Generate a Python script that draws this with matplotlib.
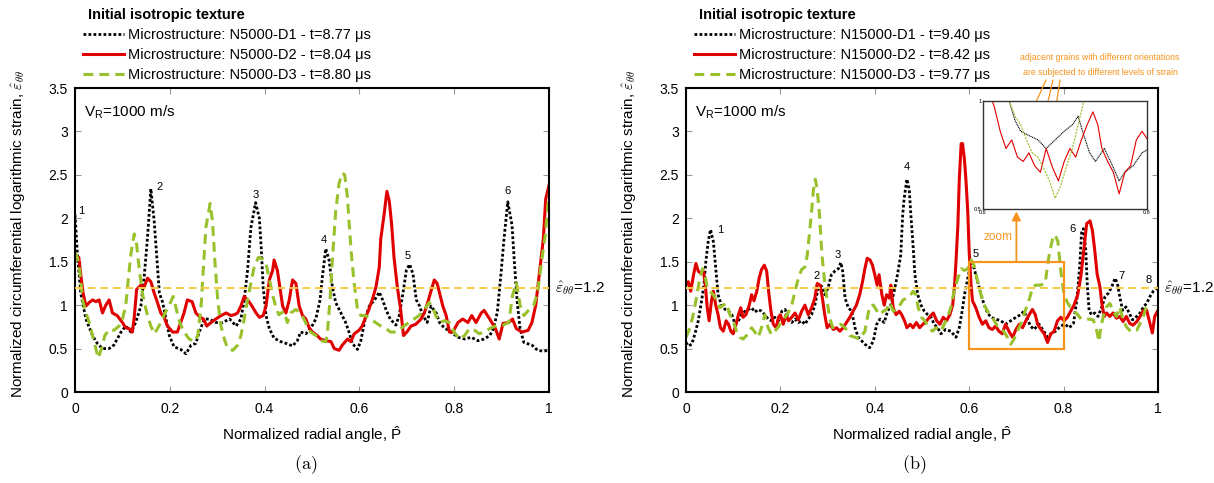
import numpy as np
import matplotlib
matplotlib.use('Agg')
import matplotlib.pyplot as plt
from matplotlib.patches import Rectangle
import matplotlib.transforms as mtransforms

plt.rcParams['font.family'] = ['Liberation Sans', 'DejaVu Sans']
plt.rcParams['mathtext.fontset'] = 'custom'
plt.rcParams['mathtext.rm'] = 'Liberation Sans'
plt.rcParams['mathtext.it'] = 'Liberation Sans:italic'
plt.rcParams['mathtext.bf'] = 'Liberation Sans:bold'

# ---------------- data (x = normalized radial angle, y = normalized strain) ----------------
left_d1 = [(0.000,2.04),(0.005,1.60),(0.012,1.14),(0.023,0.84),(0.037,0.65),(0.047,0.56),(0.058,0.50),(0.072,0.50),(0.082,0.54),(0.097,0.69),(0.107,0.76),(0.118,0.69),(0.128,0.80),(0.139,0.99),(0.146,1.33),(0.153,1.78),(0.160,2.34),(0.167,1.97),(0.173,1.52),(0.178,1.14),(0.185,1.03),(0.192,0.84),(0.199,0.65),(0.209,0.52),(0.223,0.49),(0.234,0.44),(0.245,0.54),(0.255,0.56),(0.262,0.69),(0.273,0.84),(0.283,0.84),(0.297,0.80),(0.311,0.80),(0.326,0.84),(0.340,0.76),(0.350,0.84),(0.357,1.06),(0.364,1.40),(0.371,1.89),(0.381,2.18),(0.389,2.00),(0.393,1.65),(0.397,1.21),(0.403,0.88),(0.410,0.73),(0.420,0.62),(0.434,0.58),(0.445,0.56),(0.459,0.53),(0.469,0.59),(0.476,0.69),(0.487,0.67),(0.497,0.73),(0.508,0.84),(0.517,1.06),(0.522,1.33),(0.529,1.65),(0.536,1.52),(0.543,1.21),(0.550,1.03),(0.561,0.91),(0.571,0.80),(0.578,0.69),(0.585,0.56),(0.596,0.49),(0.603,0.59),(0.612,0.84),(0.621,0.99),(0.632,1.06),(0.642,1.15),(0.649,1.06),(0.656,0.95),(0.665,0.84),(0.677,0.77),(0.684,0.88),(0.692,1.14),(0.699,1.40),(0.706,1.47),(0.713,1.36),(0.720,1.06),(0.727,0.99),(0.734,0.88),(0.743,0.80),(0.751,0.99),(0.762,0.91),(0.769,0.80),(0.779,0.74),(0.793,0.69),(0.808,0.63),(0.822,0.61),(0.836,0.63),(0.850,0.59),(0.863,0.61),(0.875,0.65),(0.883,0.73),(0.891,0.92),(0.899,1.38),(0.905,1.76),(0.913,2.19),(0.922,1.92),(0.927,1.49),(0.933,1.03),(0.939,0.73),(0.947,0.57),(0.964,0.54),(0.976,0.48),(0.988,0.47),(1.000,0.48)]

left_d2 = [(0.000,1.53),(0.008,1.55),(0.012,1.36),(0.017,1.14),(0.023,0.99),(0.030,1.03),(0.037,1.06),(0.044,1.04),(0.051,1.06),(0.058,0.91),(0.065,1.00),(0.072,1.06),(0.079,0.91),(0.089,0.88),(0.100,0.80),(0.107,0.74),(0.114,0.73),(0.121,0.69),(0.125,0.86),(0.130,1.18),(0.139,1.23),(0.146,1.21),(0.153,1.31),(0.160,1.27),(0.167,1.14),(0.174,1.03),(0.181,0.91),(0.188,0.86),(0.195,0.76),(0.206,0.69),(0.216,0.69),(0.223,0.80),(0.230,0.91),(0.237,1.06),(0.247,1.04),(0.255,0.91),(0.264,0.86),(0.271,0.84),(0.278,0.76),(0.287,0.80),(0.297,0.84),(0.308,0.88),(0.319,0.91),(0.329,0.88),(0.336,0.89),(0.343,0.91),(0.350,0.99),(0.357,1.10),(0.364,1.06),(0.371,1.01),(0.382,0.91),(0.389,0.86),(0.397,0.88),(0.403,0.99),(0.410,1.29),(0.417,1.40),(0.420,1.52),(0.427,1.40),(0.433,1.18),(0.438,0.99),(0.445,0.91),(0.452,1.06),(0.459,1.29),(0.466,1.25),(0.473,0.99),(0.480,0.88),(0.487,0.84),(0.494,0.74),(0.501,0.69),(0.511,0.65),(0.518,0.61),(0.529,0.59),(0.540,0.58),(0.547,0.50),(0.557,0.48),(0.564,0.54),(0.575,0.61),(0.582,0.58),(0.589,0.67),(0.599,0.71),(0.606,0.76),(0.613,0.86),(0.620,0.95),(0.627,1.06),(0.635,1.21),(0.642,1.44),(0.645,1.76),(0.652,2.04),(0.658,2.31),(0.663,2.20),(0.668,1.93),(0.673,1.55),(0.680,1.21),(0.687,0.95),(0.693,0.65),(0.700,0.69),(0.709,0.76),(0.719,0.78),(0.730,0.84),(0.737,0.91),(0.744,1.03),(0.751,1.16),(0.758,1.29),(0.764,1.25),(0.769,1.14),(0.776,0.99),(0.783,0.88),(0.790,0.69),(0.797,0.69),(0.808,0.80),(0.818,0.84),(0.829,0.80),(0.837,0.88),(0.846,0.80),(0.857,0.91),(0.863,0.94),(0.875,0.84),(0.887,0.73),(0.895,0.61),(0.903,0.79),(0.915,0.80),(0.923,0.84),(0.931,0.73),(0.943,0.69),(0.956,0.71),(0.964,0.80),(0.972,1.00),(0.980,1.38),(0.988,1.76),(0.993,2.22),(1.000,2.38)]

left_d3 = [(0.000,1.61),(0.005,1.55),(0.010,1.40),(0.016,1.06),(0.023,0.91),(0.030,0.80),(0.037,0.65),(0.044,0.50),(0.049,0.39),(0.056,0.50),(0.063,0.65),(0.072,0.72),(0.082,0.71),(0.093,0.76),(0.100,0.84),(0.107,0.99),(0.113,1.33),(0.118,1.59),(0.125,1.82),(0.130,1.70),(0.135,1.44),(0.142,1.14),(0.148,0.99),(0.153,0.88),(0.160,0.76),(0.167,0.67),(0.174,0.73),(0.181,0.80),(0.190,0.91),(0.199,1.00),(0.207,1.10),(0.214,0.95),(0.221,0.80),(0.230,0.69),(0.241,0.61),(0.252,0.58),(0.259,0.65),(0.266,0.99),(0.271,1.44),(0.276,1.89),(0.285,2.17),(0.290,1.97),(0.295,1.52),(0.301,1.06),(0.308,0.76),(0.315,0.61),(0.322,0.50),(0.333,0.48),(0.343,0.54),(0.350,0.65),(0.357,0.84),(0.364,1.06),(0.371,1.25),(0.378,1.44),(0.387,1.55),(0.396,1.53),(0.403,1.48),(0.410,1.30),(0.416,1.14),(0.423,0.99),(0.430,0.89),(0.441,0.93),(0.448,0.80),(0.455,0.91),(0.466,0.95),(0.476,0.91),(0.483,0.84),(0.490,0.76),(0.497,0.69),(0.508,0.65),(0.518,0.59),(0.529,0.58),(0.532,0.65),(0.538,1.06),(0.543,1.52),(0.550,2.08),(0.557,2.40),(0.564,2.52),(0.569,2.50),(0.575,2.23),(0.578,1.97),(0.583,1.59),(0.589,1.25),(0.596,0.95),(0.603,0.88),(0.613,0.88),(0.624,0.84),(0.634,0.80),(0.645,0.76),(0.656,0.73),(0.666,0.69),(0.677,0.69),(0.687,0.73),(0.694,0.76),(0.705,0.80),(0.715,0.84),(0.726,0.88),(0.736,0.94),(0.747,1.03),(0.754,0.99),(0.761,0.88),(0.769,0.80),(0.779,0.82),(0.790,0.80),(0.800,0.69),(0.811,0.61),(0.822,0.65),(0.832,0.73),(0.843,0.71),(0.853,0.67),(0.863,0.69),(0.875,0.73),(0.891,0.77),(0.903,0.77),(0.915,0.80),(0.923,1.11),(0.931,1.26),(0.939,1.00),(0.947,0.88),(0.960,0.96),(0.968,1.00),(0.976,1.15),(0.984,1.49),(0.992,1.80),(1.000,2.28)]

right_d1 = [(0.000,0.57),(0.005,0.53),(0.012,0.55),(0.019,0.67),(0.026,0.82),(0.033,1.05),(0.038,1.23),(0.042,1.50),(0.047,1.73),(0.052,1.87),(0.058,1.73),(0.063,1.42),(0.068,1.12),(0.075,1.00),(0.083,0.95),(0.090,0.93),(0.097,0.89),(0.104,0.78),(0.111,0.82),(0.118,0.89),(0.125,0.93),(0.132,0.95),(0.139,0.97),(0.146,0.92),(0.153,0.95),(0.160,0.93),(0.167,0.89),(0.174,0.84),(0.181,0.82),(0.188,0.86),(0.196,0.82),(0.203,0.93),(0.210,0.95),(0.217,0.84),(0.224,0.80),(0.231,0.84),(0.238,0.80),(0.245,0.82),(0.252,0.78),(0.259,0.84),(0.266,0.89),(0.273,1.00),(0.280,1.20),(0.287,1.22),(0.294,1.12),(0.301,1.20),(0.308,1.35),(0.315,1.39),(0.323,1.42),(0.328,1.49),(0.332,1.39),(0.337,1.08),(0.344,0.97),(0.351,0.93),(0.358,0.74),(0.365,0.63),(0.372,0.59),(0.379,0.55),(0.389,0.51),(0.397,0.59),(0.404,0.78),(0.411,0.84),(0.420,0.80),(0.427,0.93),(0.434,1.00),(0.441,1.16),(0.448,1.35),(0.455,1.58),(0.459,2.03),(0.462,2.22),(0.468,2.45),(0.473,2.33),(0.476,2.07),(0.481,1.69),(0.485,1.35),(0.491,1.12),(0.498,1.00),(0.505,0.93),(0.512,0.89),(0.519,0.86),(0.526,0.78),(0.533,0.74),(0.540,0.67),(0.550,0.72),(0.561,0.70),(0.572,0.63),(0.579,0.74),(0.585,0.93),(0.590,1.12),(0.594,1.23),(0.600,1.39),(0.605,1.51),(0.610,1.43),(0.618,1.27),(0.625,1.12),(0.632,1.00),(0.639,0.91),(0.646,0.86),(0.656,0.84),(0.667,0.82),(0.677,0.78),(0.688,0.82),(0.699,0.86),(0.709,0.89),(0.716,0.93),(0.723,0.84),(0.730,0.76),(0.737,0.72),(0.748,0.78),(0.758,0.70),(0.766,0.63),(0.773,0.67),(0.783,0.70),(0.794,0.76),(0.803,0.78),(0.812,0.74),(0.821,0.79),(0.828,1.06),(0.834,1.44),(0.838,1.83),(0.842,1.88),(0.847,1.63),(0.850,1.25),(0.854,0.94),(0.859,0.89),(0.866,0.91),(0.873,0.87),(0.881,0.98),(0.888,1.10),(0.895,1.14),(0.902,1.21),(0.909,1.31),(0.914,1.25),(0.919,1.10),(0.925,0.94),(0.932,0.98),(0.939,0.91),(0.946,0.83),(0.955,0.87),(0.962,0.91),(0.969,0.98),(0.976,1.02),(0.983,1.10),(0.990,1.16),(0.997,1.19)]

right_d2 = [(0.000,1.23),(0.005,1.27),(0.010,1.16),(0.016,1.35),(0.021,1.48),(0.026,1.39),(0.031,1.37),(0.037,1.39),(0.041,1.23),(0.045,0.97),(0.049,0.82),(0.054,1.05),(0.058,1.16),(0.063,1.00),(0.068,0.89),(0.073,0.74),(0.079,0.70),(0.085,0.82),(0.090,0.78),(0.095,0.70),(0.100,0.67),(0.106,0.78),(0.111,0.89),(0.116,0.97),(0.121,0.86),(0.127,0.89),(0.134,1.00),(0.139,1.12),(0.144,1.05),(0.150,1.16),(0.155,1.31),(0.160,1.41),(0.166,1.46),(0.171,1.39),(0.175,1.16),(0.180,0.93),(0.185,0.78),(0.191,0.74),(0.196,0.86),(0.200,0.89),(0.206,0.78),(0.212,0.89),(0.217,0.82),(0.224,0.86),(0.231,0.91),(0.238,0.83),(0.245,0.93),(0.252,1.00),(0.259,0.89),(0.266,0.97),(0.273,1.08),(0.278,1.25),(0.284,1.23),(0.289,1.08),(0.294,0.89),(0.299,0.74),(0.305,0.78),(0.312,0.72),(0.319,0.74),(0.326,0.70),(0.333,0.74),(0.340,0.80),(0.347,0.86),(0.354,0.93),(0.361,1.00),(0.368,1.12),(0.374,1.27),(0.379,1.42),(0.384,1.54),(0.390,1.52),(0.395,1.46),(0.400,1.35),(0.405,1.23),(0.409,1.35),(0.415,1.12),(0.420,1.00),(0.425,1.12),(0.431,1.08),(0.434,1.23),(0.439,0.97),(0.445,0.89),(0.452,0.93),(0.457,0.89),(0.463,0.82),(0.468,0.74),(0.475,0.78),(0.481,0.74),(0.488,0.80),(0.495,0.74),(0.502,0.78),(0.510,0.82),(0.517,0.87),(0.524,0.91),(0.531,0.82),(0.538,0.78),(0.545,0.86),(0.552,0.82),(0.559,0.89),(0.565,1.00),(0.569,1.23),(0.572,1.50),(0.576,1.92),(0.579,2.45),(0.583,2.86),(0.586,2.86),(0.590,2.67),(0.593,2.45),(0.597,2.07),(0.600,1.61),(0.604,1.23),(0.607,1.05),(0.614,0.97),(0.621,0.86),(0.628,0.78),(0.635,0.82),(0.642,0.74),(0.649,0.72),(0.656,0.76),(0.663,0.70),(0.670,0.67),(0.677,0.78),(0.685,0.69),(0.692,0.63),(0.699,0.72),(0.706,0.78),(0.713,0.74),(0.720,0.82),(0.727,0.89),(0.734,0.95),(0.740,0.89),(0.745,0.78),(0.752,0.72),(0.759,0.67),(0.766,0.57),(0.773,0.67),(0.780,0.70),(0.787,0.82),(0.794,0.86),(0.801,0.82),(0.808,0.86),(0.815,0.93),(0.822,1.00),(0.830,1.12),(0.837,1.35),(0.844,1.69),(0.849,1.94),(0.856,1.97),(0.861,1.86),(0.866,1.63),(0.871,1.36),(0.877,1.21),(0.881,1.02),(0.886,0.87),(0.891,0.91),(0.898,0.87),(0.905,0.91),(0.912,0.85),(0.919,0.87),(0.926,0.81),(0.933,0.87),(0.940,0.79),(0.947,0.77),(0.955,0.81),(0.962,0.87),(0.969,0.94),(0.976,0.94),(0.983,0.79),(0.988,0.68),(0.993,0.87),(1.000,0.94)]

right_d3 = [(0.000,0.63),(0.007,0.72),(0.014,0.86),(0.021,1.05),(0.028,1.27),(0.035,1.42),(0.040,1.35),(0.045,1.20),(0.050,1.16),(0.058,1.12),(0.065,1.05),(0.072,0.97),(0.079,1.00),(0.086,1.02),(0.093,0.89),(0.100,0.82),(0.107,0.70),(0.114,0.63),(0.121,0.61),(0.130,0.66),(0.139,0.74),(0.146,0.69),(0.153,0.63),(0.160,0.74),(0.167,0.89),(0.174,0.74),(0.181,0.66),(0.188,0.70),(0.196,0.75),(0.203,0.82),(0.210,0.86),(0.217,0.92),(0.224,1.00),(0.231,1.16),(0.238,1.31),(0.245,1.41),(0.252,1.44),(0.257,1.58),(0.261,1.80),(0.266,2.07),(0.270,2.33),(0.274,2.45),(0.278,2.33),(0.283,2.03),(0.288,1.58),(0.293,1.31),(0.299,1.05),(0.304,0.86),(0.311,0.74),(0.319,0.76),(0.328,0.78),(0.337,0.74),(0.347,0.65),(0.358,0.63),(0.368,0.61),(0.379,0.70),(0.389,0.99),(0.397,1.00),(0.406,0.92),(0.411,0.89),(0.418,0.93),(0.425,0.95),(0.432,1.03),(0.439,0.93),(0.446,0.95),(0.453,1.00),(0.460,1.06),(0.467,1.08),(0.474,1.10),(0.481,1.16),(0.487,1.12),(0.492,0.97),(0.499,0.86),(0.506,0.82),(0.514,0.74),(0.522,0.70),(0.530,0.74),(0.540,0.70),(0.547,0.78),(0.554,0.86),(0.561,0.97),(0.568,1.16),(0.576,1.31),(0.583,1.42),(0.590,1.40),(0.597,1.42),(0.604,1.52),(0.610,1.46),(0.618,1.27),(0.625,1.12),(0.632,1.00),(0.639,0.93),(0.646,0.89),(0.653,0.82),(0.660,0.76),(0.667,0.74),(0.674,0.69),(0.681,0.63),(0.688,0.55),(0.695,0.61),(0.702,0.70),(0.709,0.78),(0.716,0.89),(0.723,1.00),(0.728,1.08),(0.734,1.20),(0.740,1.23),(0.751,1.23),(0.761,1.25),(0.767,1.50),(0.772,1.65),(0.777,1.77),(0.782,1.81),(0.788,1.73),(0.792,1.50),(0.796,1.31),(0.801,1.12),(0.808,1.03),(0.815,0.97),(0.822,0.93),(0.830,0.89),(0.837,0.84),(0.852,0.84),(0.863,0.83),(0.870,0.71),(0.875,0.58),(0.879,0.75),(0.884,0.87),(0.891,0.98),(0.898,1.02),(0.905,0.94),(0.912,0.87),(0.919,0.98),(0.926,0.83),(0.933,0.75),(0.940,0.71),(0.947,0.69),(0.955,0.71),(0.962,0.79),(0.969,0.87),(0.975,0.98),(0.980,1.02)]

left_labels = ['Microstructure: N5000-D1 - t=8.77 \u03bcs',
               'Microstructure: N5000-D2 - t=8.04 \u03bcs',
               'Microstructure: N5000-D3 - t=8.80 \u03bcs']
right_labels = ['Microstructure: N15000-D1 - t=9.40 \u03bcs',
                'Microstructure: N15000-D2 - t=8.42 \u03bcs',
                'Microstructure: N15000-D3 - t=9.77 \u03bcs']
legend_title = 'Initial isotropic texture'

left_peaks = [('1', 0.014, 2.08), ('2', 0.178, 2.36), ('3', 0.381, 2.27),
              ('4', 0.524, 1.75), ('5', 0.702, 1.57), ('6', 0.913, 2.31)]
right_peaks = [('1', 0.072, 1.86), ('2', 0.277, 1.34), ('3', 0.321, 1.58),
               ('4', 0.468, 2.59), ('5', 0.613, 1.59), ('6', 0.819, 1.88),
               ('7', 0.922, 1.34), ('8', 0.981, 1.29)]
threshold = 1.2
x_ticks = [0, 0.2, 0.4, 0.6, 0.8, 1]
x_ticklabels = ['0', '0.2', '0.4', '0.6', '0.8', '1']
y_ticks = [0, 0.5, 1, 1.5, 2, 2.5, 3, 3.5]
y_ticklabels = ['0', '0.5', '1', '1.5', '2', '2.5', '3', '3.5']

# ---------------- styles ----------------
RED = '#e00000'
GREEN = '#98c12c'
GOLD = '#f5cc45'
ORANGE = '#f7941d'
styles = [dict(color='black', lw=2.0, linestyle=(0, (1, 0.8))),
          dict(color=RED, lw=2.2, linestyle='-'),
          dict(color=GREEN, lw=2.2, linestyle=(0, (3.2, 2.0)))]

W, H = 1214, 483
fig = plt.figure(figsize=(W / 100, H / 100), dpi=100)


def rect(x0, x1, y0, y1):
    return [x0 / W, 1 - y1 / H, (x1 - x0) / W, (y1 - y0) / H]


axL = fig.add_axes(rect(75, 549, 88, 392))
axR = fig.add_axes(rect(686, 1158, 88, 392))

eps = r'$\hat{\varepsilon}_{\theta\theta}$'


def setup(ax, series, labels, peaks, leg_x):
    handles = []
    for data, st, lab in zip(series, styles, labels):
        arr = np.array(data)
        h, = ax.plot(arr[:, 0], arr[:, 1], label=lab, zorder=2, **st)
        handles.append(h)
    ax.axhline(threshold, color=GOLD, lw=1.4, linestyle=(0, (4, 2.5)), zorder=3)
    ax.set_xlim(0, 1)
    ax.set_ylim(0, 3.5)
    ax.set_xticks(x_ticks)
    ax.set_xticklabels(x_ticklabels)
    ax.set_yticks(y_ticks)
    ax.set_yticklabels(y_ticklabels)
    ax.tick_params(direction='in', length=4, width=0.8, color='#999999',
                   top=True, right=True, labelsize=10)
    ax.tick_params(axis='x', pad=7)
    ax.tick_params(axis='y', pad=5)
    for s in ax.spines.values():
        s.set_linewidth(1.5)
    ax.set_xlabel('Normalized radial angle, ' + r'$\mathrm{\hat{P}}$', fontsize=11, labelpad=6)
    ax.set_ylabel('Normalized circumferential logarithmic strain, ' + eps, fontsize=11,
                  math_fontfamily='cm')
    ax.yaxis.set_label_coords(-0.10, 0.52)
    ax.text(0.02, 3.22, r'$\mathrm{V_R}$=1000 m/s', fontsize=11, va='center')
    for t, x, y in peaks:
        ax.text(x, y, t, fontsize=8, ha='center', va='center', zorder=5)
    trans = mtransforms.blended_transform_factory(ax.transAxes, ax.transData)
    ax.text(1.012, threshold, eps + '=1.2', transform=trans, fontsize=11,
            va='center', ha='left', math_fontfamily='cm')
    fig.text((leg_x + 5) / W, 1 - 15 / H, legend_title, fontsize=10.5, fontweight='bold',
             ha='left', va='center')
    leg = ax.legend(handles=handles, loc='upper left', bbox_to_anchor=(leg_x / W, 1 - 28 / H),
                    bbox_transform=fig.transFigure, frameon=False, fontsize=10.5,
                    handlelength=2.8, handletextpad=0.3, labelspacing=0.42,
                    borderpad=0, borderaxespad=0)
    return leg


setup(axL, [left_d1, left_d2, left_d3], left_labels, left_peaks, 83)
setup(axR, [right_d1, right_d2, right_d3], right_labels, right_peaks, 694)

# orange zoom box and arrow
axR.add_patch(Rectangle((0.6, 0.5), 0.2, 1.0, fill=False, edgecolor=ORANGE, lw=1.6, zorder=6))
axR.annotate('', xy=(0.7, 2.08), xytext=(0.7, 1.5),
             arrowprops=dict(arrowstyle='-|>', color=ORANGE, lw=1.3, mutation_scale=13,
                             shrinkA=0, shrinkB=0), zorder=6)
axR.text(0.66, 1.78, 'zoom', color=ORANGE, fontsize=8.5, ha='center', va='center')

# inset
axI = fig.add_axes(rect(983, 1147, 101, 209))
for data, st in zip([right_d1, right_d2, right_d3], styles):
    arr = np.array(data)
    st2 = dict(st)
    st2['lw'] = 0.8
    if st['color'] == GREEN:
        st2['linestyle'] = (0, (2, 1))
    elif st['color'] == 'black':
        st2['linestyle'] = (0, (1, 0.6))
    axI.plot(arr[:, 0], arr[:, 1], **st2)
axI.set_xlim(0.6, 0.8)
axI.set_ylim(0.5, 1.0)
axI.set_xticks([0.6, 0.8])
axI.set_xticklabels(['0.6', '0.8'])
axI.set_yticks([0.5, 1.0])
axI.set_yticklabels(['0.5', '1'])
axI.tick_params(direction='in', length=2, width=0.5, labelsize=4, pad=1, top=True, right=True)
for s in axI.spines.values():
    s.set_linewidth(1.0)
    s.set_color('#333333')

# annotation text and arrows
fig.text(1100 / W, 1 - 58 / H, 'adjacent grains with different orientations',
         ha='center', va='center', fontsize=6.3, color=ORANGE)
fig.text(1100 / W, 1 - 72 / H, 'are subjected to different levels of strain',
         ha='center', va='center', fontsize=6.3, color=ORANGE)
for (tx, ty), (hx, hy) in [((1046, 80), (1031, 113)), ((1053, 80), (1042, 127)),
                           ((1060, 80), (1052, 133))]:
    axR.annotate('', xy=(hx / W, 1 - hy / H), xycoords='figure fraction',
                 xytext=(tx / W, 1 - ty / H), textcoords='figure fraction',
                 arrowprops=dict(arrowstyle='-|>', color=ORANGE, lw=0.9, mutation_scale=10,
                                 shrinkA=0, shrinkB=0), annotation_clip=False, zorder=7)

fig.text(306 / W, 1 - 465 / H, r'$(\mathrm{a})$', ha='center', va='center', fontsize=13,
         math_fontfamily='cm')
fig.text(914 / W, 1 - 465 / H, r'$(\mathrm{b})$', ha='center', va='center', fontsize=13,
         math_fontfamily='cm')

fig.savefig('out.png', dpi=100)
